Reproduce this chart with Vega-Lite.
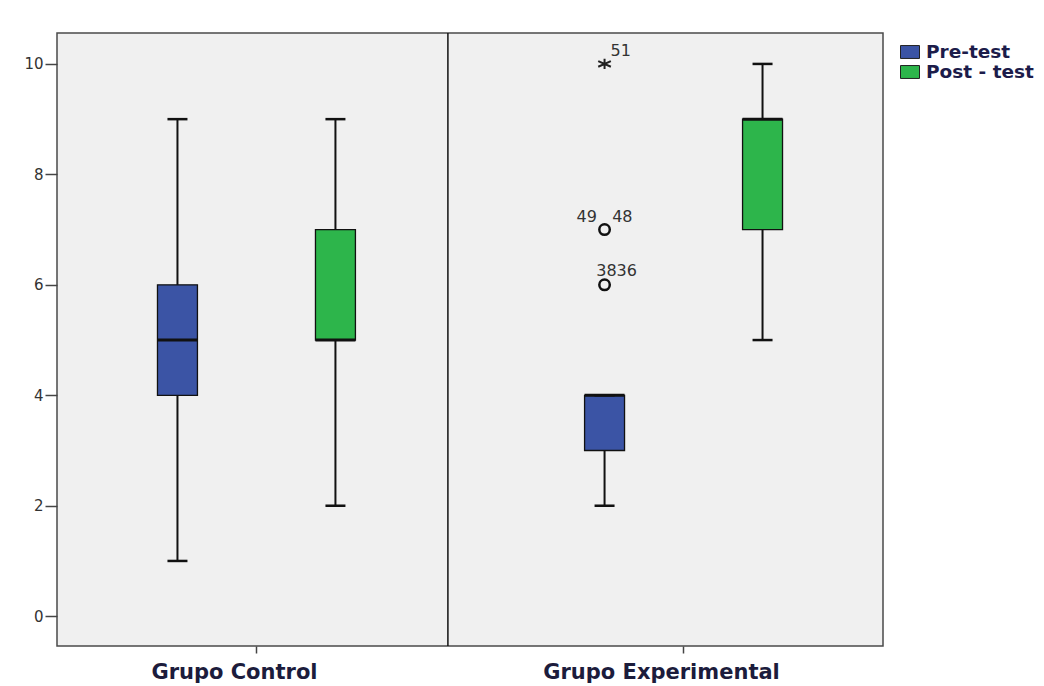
{
  "$schema": "https://vega.github.io/schema/vega-lite/v6.json",
  "autosize": {"type": "none"},
  "padding": {"left": 57, "top": 33, "right": 161, "bottom": 40},
  "width": 826,
  "height": 613,
  "background": "white",
  "datasets": {
    "cajas": [
      {"grupo": "Grupo Control", "prueba": "Pre-test", "min": 1, "q1": 4, "mediana": 5, "q3": 6, "max": 9},
      {"grupo": "Grupo Control", "prueba": "Post - test", "min": 2, "q1": 5, "mediana": 5, "q3": 7, "max": 9},
      {"grupo": "Grupo Experimental", "prueba": "Pre-test", "min": 2, "q1": 3, "mediana": 4, "q3": 4, "max": 4},
      {"grupo": "Grupo Experimental", "prueba": "Post - test", "min": 5, "q1": 7, "mediana": 9, "q3": 9, "max": 10}
    ],
    "atipicos": [
      {"grupo": "Grupo Experimental", "prueba": "Pre-test", "valor": 10, "tipo": "extremo", "caso": "51"},
      {"grupo": "Grupo Experimental", "prueba": "Pre-test", "valor": 7, "tipo": "atipico", "caso": "49\u00a0\u00a0\u00a048"},
      {"grupo": "Grupo Experimental", "prueba": "Pre-test", "valor": 6, "tipo": "atipico", "caso": "3836"}
    ],
    "divisor": [{"grupo": "Grupo Control"}]
  },
  "config": {
    "view": {"fill": "#f0f0f0", "stroke": "#4a4a4a", "strokeWidth": 1.5},
    "axisY": {
      "tickSize": 12, "tickWidth": 1.5, "tickColor": "#444",
      "labelFont": "DejaVu Sans", "labelFontSize": 15, "labelColor": "#333",
      "labelPadding": 2, "domain": false, "grid": false, "title": null
    },
    "axisX": {
      "tickSize": 7, "tickWidth": 1.5, "tickColor": "#444",
      "labelFont": "DejaVu Sans", "labelFontSize": 21, "labelFontWeight": "bold",
      "labelColor": "#1c1c3c", "labelPadding": 8, "labelOffset": -22, "labelAngle": 0,
      "labelLimit": 400, "domain": false, "grid": false, "title": null
    }
  },
  "layer": [
    {
      "data": {"name": "divisor"},
      "mark": {"type": "rule", "color": "#111", "strokeWidth": 1.5, "xOffset": -8},
      "encoding": {
        "x": {"field": "grupo", "type": "nominal", "bandPosition": 1,
              "scale": {"domain": ["Grupo Control", "Grupo Experimental"], "paddingInner": 0.066, "paddingOuter": 0}}
      }
    },
    {
      "data": {"name": "cajas"},
      "mark": {"type": "rule", "color": "#111", "strokeWidth": 2},
      "encoding": {
        "x": {"field": "grupo", "type": "nominal"},
        "xOffset": {"field": "prueba", "type": "nominal", "scale": {"domain": ["Pre-test", "Post - test"], "paddingInner": 0.747, "paddingOuter": 0.636}},
        "y": {"field": "min", "type": "quantitative", "scale": {"domain": [-0.54, 10.56], "nice": false, "zero": false},
              "axis": {"values": [0, 2, 4, 6, 8, 10], "format": "d"}},
        "y2": {"field": "max"}
      }
    },
    {
      "data": {"name": "cajas"},
      "mark": {"type": "bar", "stroke": "#111", "strokeWidth": 1.3},
      "encoding": {
        "x": {"field": "grupo", "type": "nominal"},
        "xOffset": {"field": "prueba", "type": "nominal"},
        "y": {"field": "q1", "type": "quantitative"},
        "y2": {"field": "q3"},
        "color": {
          "field": "prueba", "type": "nominal",
          "scale": {"domain": ["Pre-test", "Post - test"], "range": ["#3b54a5", "#2db54b"]},
          "legend": {
            "title": null, "orient": "none", "legendX": 843, "legendY": 9,
            "padding": 0, "rowPadding": 0,
            "symbolType": "M-1,-0.68H1V0.68H-1Z", "symbolSize": 361,
            "symbolStrokeColor": "#222", "symbolStrokeWidth": 1, "symbolOpacity": 1,
            "labelFont": "DejaVu Sans", "labelFontSize": 18.5, "labelFontWeight": "bold",
            "labelColor": "#1c1c4a", "labelOffset": 6
          }
        }
      }
    },
    {
      "data": {"name": "cajas"},
      "mark": {"type": "tick", "color": "#111", "size": 40, "thickness": 3, "opacity": 1},
      "encoding": {
        "x": {"field": "grupo", "type": "nominal"},
        "xOffset": {"field": "prueba", "type": "nominal"},
        "y": {"field": "mediana", "type": "quantitative"}
      }
    },
    {
      "data": {"name": "cajas"},
      "mark": {"type": "tick", "color": "#111", "size": 20, "thickness": 2.5, "opacity": 1},
      "encoding": {
        "x": {"field": "grupo", "type": "nominal"},
        "xOffset": {"field": "prueba", "type": "nominal"},
        "y": {"field": "min", "type": "quantitative"}
      }
    },
    {
      "data": {"name": "cajas"},
      "mark": {"type": "tick", "color": "#111", "size": 20, "thickness": 2.5, "opacity": 1},
      "encoding": {
        "x": {"field": "grupo", "type": "nominal"},
        "xOffset": {"field": "prueba", "type": "nominal"},
        "y": {"field": "max", "type": "quantitative"}
      }
    },
    {
      "data": {"name": "atipicos"},
      "transform": [{"filter": "datum.tipo === 'atipico'"}],
      "mark": {"type": "point", "shape": "circle", "filled": false, "stroke": "#111", "strokeWidth": 2.5, "size": 110, "opacity": 1},
      "encoding": {
        "x": {"field": "grupo", "type": "nominal"},
        "xOffset": {"field": "prueba", "type": "nominal"},
        "y": {"field": "valor", "type": "quantitative"}
      }
    },
    {
      "data": {"name": "atipicos"},
      "transform": [{"filter": "datum.tipo === 'extremo'"}],
      "mark": {"type": "point", "shape": "M0,-0.8L0,0.8M-1,-0.45L1,0.45M-1,0.45L1,-0.45", "filled": false, "stroke": "#222", "strokeWidth": 2, "size": 160, "opacity": 1},
      "encoding": {
        "x": {"field": "grupo", "type": "nominal"},
        "xOffset": {"field": "prueba", "type": "nominal"},
        "y": {"field": "valor", "type": "quantitative"}
      }
    },
    {
      "data": {"name": "atipicos"},
      "transform": [{"filter": "datum.valor === 10"}],
      "mark": {"type": "text", "font": "DejaVu Sans", "fontSize": 16, "color": "#333", "align": "left", "baseline": "middle", "dx": 6, "dy": -13},
      "encoding": {
        "x": {"field": "grupo", "type": "nominal"},
        "xOffset": {"field": "prueba", "type": "nominal"},
        "y": {"field": "valor", "type": "quantitative"},
        "text": {"field": "caso"}
      }
    },
    {
      "data": {"name": "atipicos"},
      "transform": [{"filter": "datum.valor === 7"}],
      "mark": {"type": "text", "font": "DejaVu Sans", "fontSize": 16, "color": "#333", "align": "center", "baseline": "middle", "dx": 0, "dy": -13},
      "encoding": {
        "x": {"field": "grupo", "type": "nominal"},
        "xOffset": {"field": "prueba", "type": "nominal"},
        "y": {"field": "valor", "type": "quantitative"},
        "text": {"field": "caso"}
      }
    },
    {
      "data": {"name": "atipicos"},
      "transform": [{"filter": "datum.valor === 6"}],
      "mark": {"type": "text", "font": "DejaVu Sans", "fontSize": 16, "color": "#333", "align": "center", "baseline": "middle", "dx": 12, "dy": -14},
      "encoding": {
        "x": {"field": "grupo", "type": "nominal"},
        "xOffset": {"field": "prueba", "type": "nominal"},
        "y": {"field": "valor", "type": "quantitative"},
        "text": {"field": "caso"}
      }
    }
  ]
}
